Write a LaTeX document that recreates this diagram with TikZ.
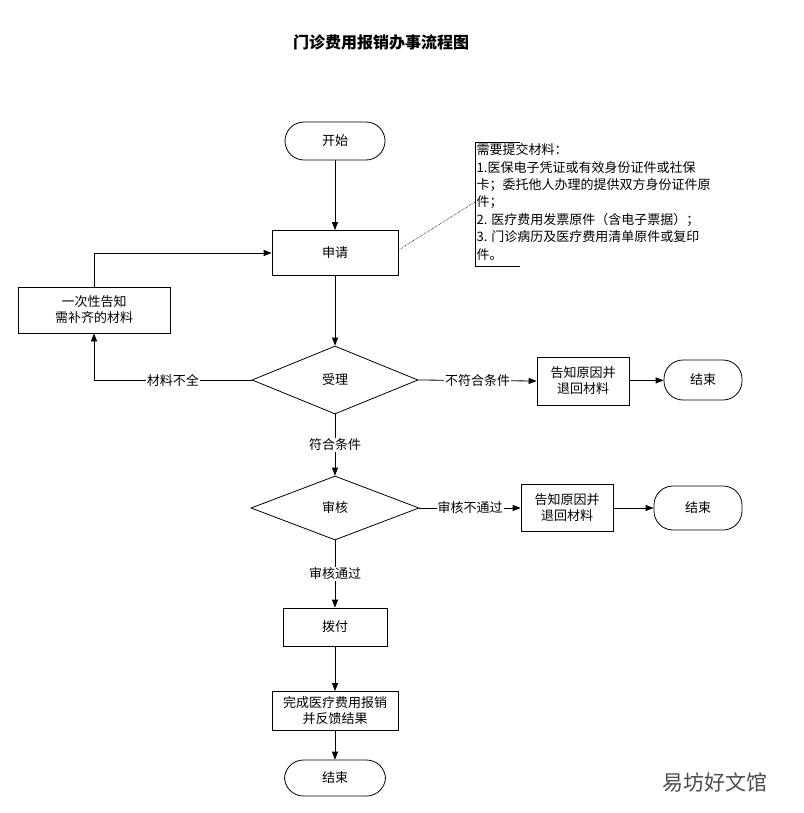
\documentclass[tikz,border=0pt]{standalone}
\usepackage{fontspec}
\setmainfont{Noto Sans CJK SC}
\usetikzlibrary{shapes.geometric,arrows.meta}
\begin{document}
\begin{tikzpicture}[x=1pt,y=-1pt,font=\fontsize{13}{16}\selectfont,
  box/.style={draw,thick,minimum width=#1,inner sep=1pt,align=center},
  term/.style={draw,thick,rounded corners=19pt,minimum width=#1,minimum height=38pt},
  dia/.style={draw,thick,diamond,aspect=2.45,minimum width=#1,minimum height=68pt,inner sep=0pt},
  arr/.style={thick,-{Triangle[length=8pt,width=6pt]}},
  lab/.style={fill=white,inner sep=1pt}]
\useasboundingbox (0,0) rectangle (803,813);
\node[font=\fontsize{16}{18}\selectfont\bfseries] (title) at (381,42) {门诊费用报销办事流程图};
\node[term=100pt] (start) at (335,141) {开始};
\node[box=126pt,minimum height=45pt] (apply) at (335,253) {申请};
\node[box=152pt,minimum height=46pt] (notify) at (94,310) {一次性告知\\需补齐的材料};
\node[dia=166pt] (accept) at (335,380) {受理};
\node[box=92pt,minimum height=48pt] (ret1) at (583,381) {告知原因并\\退回材料};
\node[term=78pt,minimum height=40pt] (end1) at (703,380) {结束};
\node[dia=168pt,minimum height=64pt] (review) at (335,508) {审核};
\node[box=92pt,minimum height=47pt] (ret2) at (567,508) {告知原因并\\退回材料};
\node[term=88pt,minimum height=44pt] (end2) at (698,508) {结束};
\node[box=104pt,minimum height=38pt] (pay) at (335,627) {拨付};
\node[box=126pt,minimum height=39pt] (done) at (335,711) {完成医疗费用报销\\并反馈结果};
\node[term=101pt,minimum height=36pt] (end3) at (335,778) {结束};
% annotation
\coordinate (ann) at (475,202);
\draw[thick] (520,142) -- (475,142) -- (475,266) -- (520,266);
\node[anchor=north west,align=left,inner sep=1.5pt,font=\fontsize{13}{17.4}\selectfont] (annt) at (475,142) {需要提交材料：\\1.医保电子凭证或有效身份证件或社保\\卡；委托他人办理的提供双方身份证件原\\件；\\2. 医疗费用发票原件（含电子票据）；\\3. 门诊病历及医疗费用清单原件或复印\\件。};
\draw[densely dotted,semithick] (apply.east) ++(0,-3) -- (ann);
% connectors
\draw[arr] (start) -- (apply);
\draw[arr] (apply) -- (accept);
\draw[arr] (accept.west) -- (94,380) node[lab,pos=0.5] {材料不全} -- (notify.south);
\draw[arr] (notify.north) -- (94,253) -- (apply.west);
\draw[arr] (accept.east) -- node[lab,pos=0.5] {不符合条件} (ret1.west);
\draw[arr] (ret1) -- (end1);
\draw[arr] (accept.south) -- node[lab] {符合条件} (review.north);
\draw[arr] (review.east) -- node[lab] {审核不通过} (ret2.west);
\draw[arr] (ret2) -- (end2);
\draw[arr] (review.south) -- node[lab] {审核通过} (pay.north);
\draw[arr] (pay) -- (done);
\draw[arr] (done) -- (end3);
\node[text=gray!60!black,font=\fontsize{21}{23}\selectfont] (wm) at (715,782) {易坊好文馆};
\end{tikzpicture}
\end{document}
